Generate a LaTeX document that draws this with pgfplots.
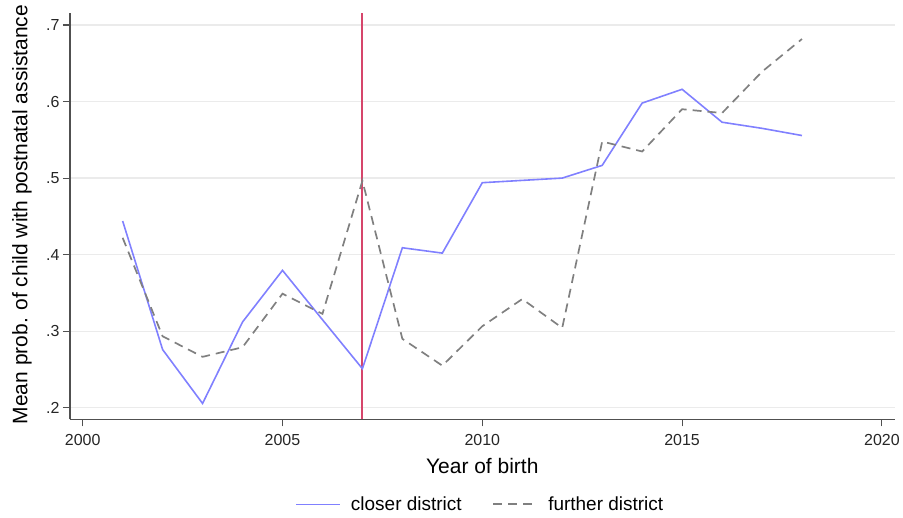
\documentclass[border=0pt]{standalone}
\usepackage{fontspec}
\setmainfont{Liberation Sans}
\usepackage{pgfplots}
\pgfplotsset{compat=1.18}
\definecolor{closer}{HTML}{8080FF}
\definecolor{further}{HTML}{808080}
\definecolor{vline}{HTML}{D6456B}
\definecolor{axisgray}{HTML}{505050}
\definecolor{gridgray}{HTML}{EBEBEB}
\begin{document}
\begin{tikzpicture}
\path (0pt,0pt) rectangle (903pt,518pt);
\begin{axis}[
  at={(70pt,98pt)}, anchor=south west,
  scale only axis, width=826pt, height=407pt,
  xmin=1999.68, xmax=2020.32, ymin=0.1848, ymax=0.7157,
  axis x line*=bottom, axis y line*=left,
  axis line style={axisgray, line width=1.4pt},
  xtick={2000,2005,2010,2015,2020},
  ytick={0.2,0.3,0.4,0.5,0.6,0.7},
  yticklabel={\pgfmathprintnumber[fixed,precision=1,skip 0.]{\tick}},
  /pgf/number format/1000 sep={},
  /pgf/number format/assume math mode=true,
  tick align=outside, major tick length=7pt,
  tick style={axisgray, line width=1.1pt},
  ymajorgrids, grid style={gridgray, line width=1.2pt},
  tick label style={font=\fontsize{16}{16}\selectfont, text=black!85},
  xticklabel style={yshift=-4pt},
  label style={font=\fontsize{21}{21}\selectfont},
  xlabel={Year of birth},
  ylabel={Mean prob. of child with postnatal assistance},
  xlabel style={at={(axis description cs:0.5,-0.1155)}, anchor=center},
  ylabel style={at={(axis description cs:-0.0581,0.504)}, anchor=center, rotate=0},
  legend style={at={(axis description cs:0.4976,-0.209)}, anchor=center, draw=none,
    font=\fontsize{19}{19}\selectfont, legend columns=2, fill=none,
    /tikz/every odd column/.append style={column sep=8pt},
    /tikz/every even column/.append style={column sep=29pt}},
  legend image code/.code={\draw[#1] (0pt,0pt) -- (44pt,0pt);},
  legend cell align=left,
]
\addplot[vline, line width=2pt, forget plot] coordinates {(2007,0.1848) (2007,0.7157)};
\addplot[closer, line width=1.6pt] coordinates {
(2001,0.444) (2002,0.276) (2003,0.2056) (2004,0.312) (2005,0.3795) (2006,0.315)
(2007,0.251) (2008,0.409) (2009,0.402) (2010,0.494) (2011,0.497) (2012,0.500)
(2013,0.5166) (2014,0.598) (2015,0.616) (2016,0.573) (2017,0.565) (2018,0.5556)
};
\addlegendentry{closer district}
\addplot[further, line width=1.7pt, dash pattern=on 9pt off 6pt] coordinates {
(2001,0.422) (2002,0.2934) (2003,0.2665) (2004,0.279) (2005,0.349) (2006,0.3226)
(2007,0.4965) (2008,0.290) (2009,0.255) (2010,0.3065) (2011,0.342) (2012,0.3043)
(2013,0.5478) (2014,0.5347) (2015,0.590) (2016,0.585) (2017,0.639) (2018,0.6817)
};
\addlegendentry{further district}
\end{axis}
\end{tikzpicture}
\end{document}
